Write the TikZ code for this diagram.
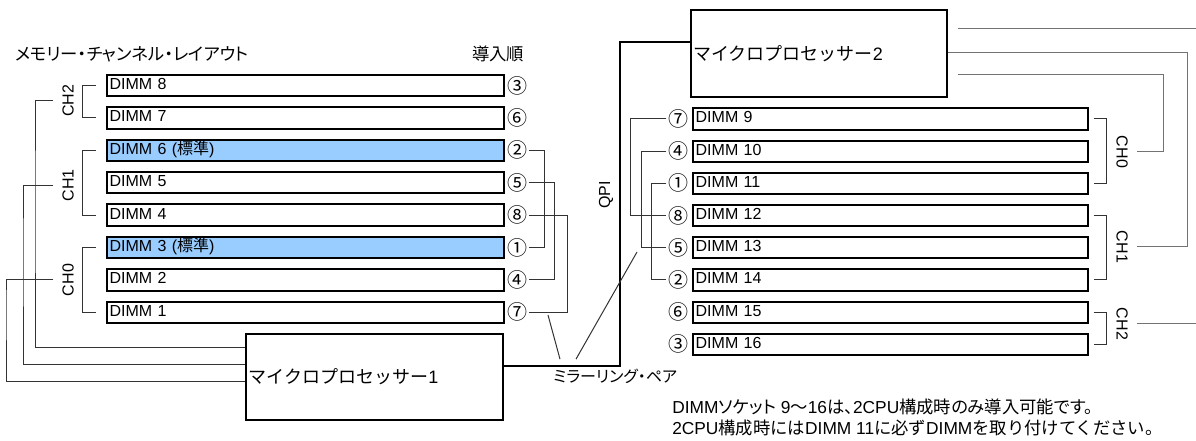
\documentclass[tikz,border=0pt]{standalone}
\usepackage{fontspec}
\setmainfont{Liberation Sans}
\newfontfamily\jp[RawFeature=+palt]{Noto Sans CJK JP}
\newfontfamily\jpw{Noto Sans CJK JP}
\usetikzlibrary{calc}
\definecolor{stdblue}{RGB}{153,204,255}
\tikzset{
  dimm/.style={draw, line width=1.5pt, anchor=west, align=left, inner xsep=2pt, inner ysep=0pt,
    text height=9pt, text depth=3pt, minimum height=16pt},
  cpu/.style={draw, line width=1.5pt, align=left, inner xsep=2pt, text width=188.5pt, minimum height=65pt,
    font=\fontsize{13.5}{16}\selectfont},
  ord/.style={inner sep=1pt, font=\jp\fontsize{15}{16}\selectfont},
  jp/.style={font=\jp\fontsize{13}{15}\selectfont},
  chl/.style={inner xsep=1pt, inner ysep=6.5pt},
  conn/.style={line width=0.75pt, black!80},
  conn2/.style={line width=0.75pt, black!55},
  qpiline/.style={line width=1.5pt}
}

\begin{document}
\begin{tikzpicture}[x=0.75pt, y=-0.75pt, font=\fontsize{12}{14}\selectfont]
\useasboundingbox (0,0) rectangle (1196,441);

\node[jp, anchor=west, inner sep=0pt] (title) at (15,54) {メモリー・チャンネル・レイアウト};
\node[jp] (order) at (498,54) {導入順};

\node[dimm, text width=293.5pt] (d8) at (106,85.5) {DIMM 8};
\node[dimm, text width=293.5pt] (d7) at (106,117.9) {DIMM 7};
\node[dimm, text width=293.5pt, fill=stdblue] (d6) at (106,150.3) {DIMM 6 ({\jp 標準})};
\node[dimm, text width=293.5pt] (d5) at (106,182.7) {DIMM 5};
\node[dimm, text width=293.5pt] (d4) at (106,215.1) {DIMM 4};
\node[dimm, text width=293.5pt, fill=stdblue] (d3) at (106,247.5) {DIMM 3 ({\jp 標準})};
\node[dimm, text width=293.5pt] (d2) at (106,279.9) {DIMM 2};
\node[dimm, text width=293.5pt] (d1) at (106,312.3) {DIMM 1};

\node[ord] (o8) at (517,85.5) {③};
\node[ord] (o7) at (517,117.9) {⑥};
\node[ord] (o6) at (517,150.3) {②};
\node[ord] (o5) at (517,182.7) {⑤};
\node[ord] (o4) at (517,215.1) {⑧};
\node[ord] (o3) at (517,247.5) {①};
\node[ord] (o2) at (517,279.9) {④};
\node[ord] (o1) at (517,312.3) {⑦};

\draw[conn] (o6.east) -- ++(16,0) |- (o3.east);
\draw[conn] (o5.east) -- ++(26,0) |- (o2.east);
\draw[conn] (o4.east) -- ++(39,0) |- (o1.east);

\draw[conn] ([xshift=-7.5pt]d8.west) -- ++(-14,0) |- ([xshift=-7.5pt]d7.west);
\draw[conn] ([xshift=-7.5pt]d6.west) -- ++(-14,0) |- ([xshift=-7.5pt]d4.west);
\draw[conn] ([xshift=-7.5pt]d3.west) -- ++(-14,0) |- ([xshift=-7.5pt]d1.west);

\node[chl, rotate=90] (ch2l) at (68,101) {CH2};
\node[chl, rotate=90] (ch1l) at (68,185.5) {CH1};
\node[chl, rotate=90] (ch0l) at (68,280) {CH0};

\node[cpu] (cpu1) at (374.5,377) {{\jpw マイクロプロセッサー}1};

\coordinate (lx2) at (35,200);
\coordinate (lx1) at (23,250);
\coordinate (lx0) at (6,300);
\draw[conn] (ch2l.north) -| (lx2) |- ([yshift=21.75pt]cpu1.west);
\draw[conn] (ch1l.north) -| (lx1) |- ([yshift=9pt]cpu1.west);
\draw[conn] (ch0l.north) -| (lx0) |- ([yshift=-3.75pt]cpu1.west);

\node[cpu] (cpu2) at (819,53.5) {{\jpw マイクロプロセッサー}2};

\coordinate (qpimid) at (620,200);
\draw[qpiline] ([yshift=8.25pt]cpu1.east) -| (qpimid) |- ([yshift=8.6pt]cpu2.west);
\node[rotate=90] (qpi) at (606,195) {QPI};

\node[dimm, text width=292pt] (d9) at (692,119) {DIMM 9};
\node[dimm, text width=292pt] (d10) at (692,151.2) {DIMM 10};
\node[dimm, text width=292pt] (d11) at (692,183.4) {DIMM 11};
\node[dimm, text width=292pt] (d12) at (692,215.6) {DIMM 12};
\node[dimm, text width=292pt] (d13) at (692,247.8) {DIMM 13};
\node[dimm, text width=292pt] (d14) at (692,280) {DIMM 14};
\node[dimm, text width=292pt] (d15) at (692,312.2) {DIMM 15};
\node[dimm, text width=292pt] (d16) at (692,344.4) {DIMM 16};

\node[ord] (o9) at (678,119) {⑦};
\node[ord] (o10) at (678,151.2) {④};
\node[ord] (o11) at (678,183.4) {①};
\node[ord] (o12) at (678,215.6) {⑧};
\node[ord] (o13) at (678,247.8) {⑤};
\node[ord] (o14) at (678,280) {②};
\node[ord] (o15) at (678,312.2) {⑥};
\node[ord] (o16) at (678,344.4) {③};

\draw[conn] (o9.west) -- ++(-36,0) |- (o12.west);
\draw[conn] (o10.west) -- ++(-25,0) |- (o13.west);
\draw[conn] (o11.west) -- ++(-15,0) |- (o14.west);

\draw[conn] ([xshift=3.75pt]d9.east) -- ++(13,0) |- ([xshift=3.75pt]d11.east);
\draw[conn] ([xshift=3.75pt]d12.east) -- ++(13,0) |- ([xshift=3.75pt]d14.east);
\draw[conn] ([xshift=3.75pt]d15.east) -- ++(13,0) |- ([xshift=3.75pt]d16.east);

\node[chl, rotate=-90] (ch0r) at (1122,152) {CH0};
\node[chl, rotate=-90] (ch1r) at (1122,247) {CH1};
\node[chl, rotate=-90] (ch2r) at (1122,324) {CH2};

\coordinate (rx1) at (1187,150);
\coordinate (rx0) at (1163,110);
\draw[conn2] ([xshift=7.5pt,yshift=19.1pt]cpu2.east) -- ++(239,0);
\draw[conn2] ([yshift=1pt]cpu2.east) -| (rx1) |- (ch1r.north);
\draw[conn2] ([xshift=7.5pt,yshift=-15.4pt]cpu2.east) -| (rx0) |- (ch0r.north);
\draw[conn2] (ch2r.north) -- ++(62,0);

\node[anchor=west, inner sep=0pt, font=\jp\fontsize{12}{14}\selectfont] (mirror) at (553,376) {ミラーリング・ペア};
\coordinate (mL) at (548,315);
\coordinate (mR) at (637,252);
\draw[conn] ([xshift=5.25pt,yshift=7pt]mirror.north west) -- (mL);
\draw[conn] ([xshift=17.25pt,yshift=7pt]mirror.north west) -- (mR);

\node[anchor=west, inner sep=0pt, font=\fontsize{13}{15}\selectfont] (note1) at (672,407) {DIMM{\jp ソケット} 9{\jp ～}16{\jp は、}2CPU{\jp 構成時のみ導入可能です。}};
\node[anchor=west, inner sep=0pt, font=\fontsize{13}{15}\selectfont] (note2) at (672,428) {2CPU{\jpw 構成時には}DIMM 11{\jpw に必ず}DIMM{\jpw を取り付けてください。}};
\end{tikzpicture}
\end{document}
